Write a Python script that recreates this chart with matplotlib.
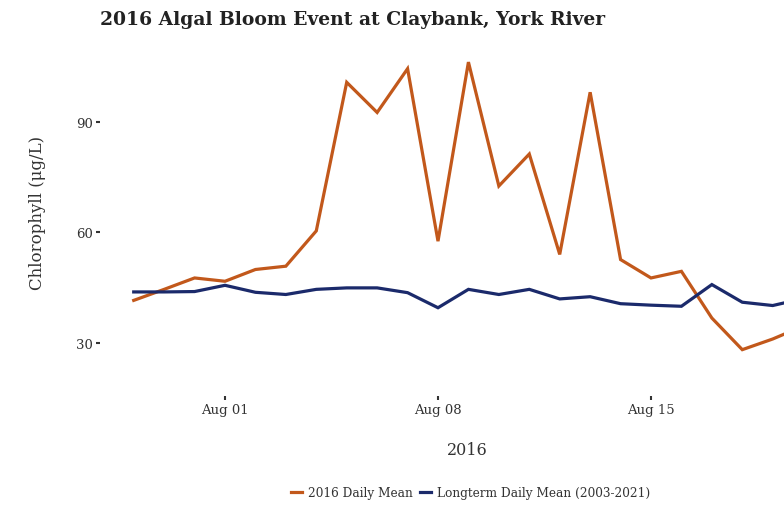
import matplotlib
matplotlib.use("Agg")
import matplotlib.pyplot as plt
import matplotlib.dates as mdates
import numpy as np
import pandas as pd

dates = pd.date_range("2016-07-29", "2016-08-20", freq="D")
daily_2016 = [41.5, 44.5, 47.6, 46.7, 49.9, 50.8, 60.4, 100.8, 92.6, 104.5, 57.6, 106.3,
              72.6, 81.3, 54.0, 98.1, 52.6, 47.6, 49.4, 36.7, 28.1, 31.0, 34.5]
longterm = [43.8, 43.8, 43.9, 45.6, 43.7, 43.1, 44.5, 44.9, 44.9, 43.6, 39.5, 44.5,
            43.1, 44.5, 41.9, 42.5, 40.6, 40.2, 39.9, 45.8, 41.0, 40.1, 42.0]
series_labels = ["2016 Daily Mean", "Longterm Daily Mean (2003-2021)"]
title = "2016 Algal Bloom Event at Claybank, York River"

orange = "#c2581b"
navy = "#1b2a6b"
txt = "#333333"
font = "DejaVu Serif"

W, H = 784, 506
fig = plt.figure(figsize=(W / 100, H / 100), dpi=100)
left_px, right_px, top_px, bot_px = 100, 900, 55, 397
ax = fig.add_axes([left_px / W, 1 - bot_px / H, (right_px - left_px) / W, (bot_px - top_px) / H])

ax.plot(dates, daily_2016, color=orange, lw=2.3, label=series_labels[0], solid_joinstyle="miter")
ax.plot(dates, longterm, color=navy, lw=2.3, label=series_labels[1], solid_joinstyle="miter")

aug1 = pd.Timestamp("2016-08-01")
px_per_day = 213 / 7
xl = aug1 + pd.Timedelta(days=(left_px - 225) / px_per_day)
xr = aug1 + pd.Timedelta(days=(right_px - 225) / px_per_day)
ax.set_xlim(xl, xr)
ax.set_ylim(15.5, 108.5)

for s in ax.spines.values():
    s.set_visible(False)

ax.set_yticks([30, 60, 90])
ax.xaxis.set_major_locator(mdates.DayLocator(bymonthday=[1, 8, 15]))
ax.xaxis.set_major_formatter(mdates.DateFormatter("%b %d"))
ax.tick_params(axis="y", length=3, width=1.5, color=txt, pad=2, labelsize=9.5, labelcolor=txt)
ax.tick_params(axis="x", length=3, width=1.5, color=txt, pad=2, labelsize=9.5, labelcolor=txt)
for lab in ax.get_xticklabels() + ax.get_yticklabels():
    lab.set_family(font)

ax.set_xlabel("2016", family=font, fontsize=11.5, color=txt)
ax.xaxis.set_label_coords((467 - left_px) / (right_px - left_px), -(442 - bot_px) / (bot_px - top_px))
ax.set_ylabel("Chlorophyll (μg/L)", family=font, fontsize=12, color=txt)
ax.yaxis.set_label_coords(-(left_px - 46) / (right_px - left_px), (bot_px - 213) / (bot_px - top_px))

fig.text(100 / W, 1 - 20 / H, title, family=font, fontweight="bold", fontsize=13.5,
         color="#222222", ha="left", va="center")

leg = fig.legend(loc="center", bbox_to_anchor=(471 / W, 1 - 494 / H), ncol=2, frameon=False,
                 prop={"family": font, "size": 8.7}, handlelength=0.9, handletextpad=0.5,
                 columnspacing=0.6)
for t in leg.get_texts():
    t.set_color(txt)

fig.savefig("out.png", dpi=100)
